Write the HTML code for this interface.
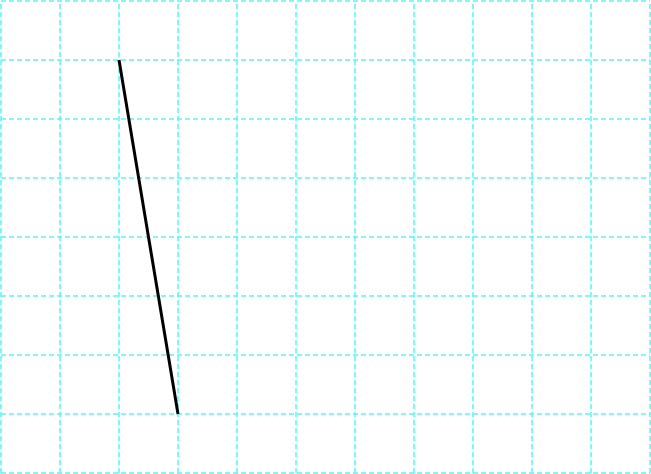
<!DOCTYPE html>
<html><head><meta charset="utf-8"><style>html,body{margin:0;padding:0;background:#fff}svg{display:block}</style></head>
<body>
<svg id="chart" width="651" height="474" xmlns="http://www.w3.org/2000/svg">
<g id="grid"></g>
<g id="series"></g>
</svg>
<script>
const xTicks = [0,1,2,3,4,5,6,7,8,9,10,11];
const yTicks = [0,1,2,3,4,5,6,7,8];
const seriesX = [2,3];
const seriesY = [7,1];
const x0 = 1, cell = 59, yBase = 473;
function sx(v){return x0 + v*cell;}
function sy(v){return yBase - v*cell;}
const ns = "http://www.w3.org/2000/svg";
const grid = document.getElementById('grid');
xTicks.forEach(function(t){
  const l = document.createElementNS(ns,'line');
  
  
  l.setAttribute('x1',sx(t)); l.setAttribute('x2',sx(t));
  l.setAttribute('y1',sy(0)); l.setAttribute('y2',sy(8));
  l.setAttribute('stroke','#55f5f5'); l.setAttribute('stroke-width','1.5'); l.setAttribute('stroke-dasharray','5 3');
  grid.appendChild(l);
});
yTicks.forEach(function(t){
  const l = document.createElementNS(ns,'line');
  
  
  l.setAttribute('x1',sx(0)); l.setAttribute('x2',sx(11));
  l.setAttribute('y1',sy(t)); l.setAttribute('y2',sy(t));
  l.setAttribute('stroke','#55f5f5'); l.setAttribute('stroke-width','1.5'); l.setAttribute('stroke-dasharray','5 3');
  grid.appendChild(l);
});
const p = document.createElementNS(ns,'polyline');


p.setAttribute('points', seriesX.map(function(v,i){return sx(v)+','+sy(seriesY[i]);}).join(' '));
p.setAttribute('fill','none'); p.setAttribute('stroke','#000'); p.setAttribute('stroke-width','3');
document.getElementById('series').appendChild(p);
</script>
</body></html>
